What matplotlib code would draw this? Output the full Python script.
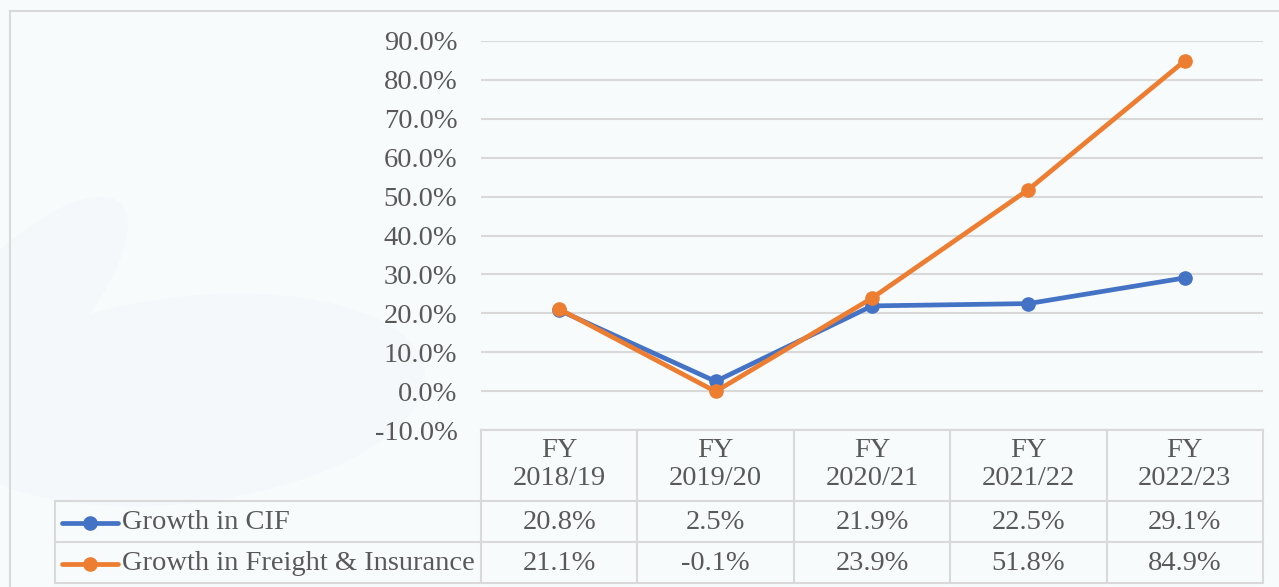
import matplotlib
matplotlib.use("Agg")
import matplotlib.pyplot as plt
from matplotlib.lines import Line2D
from matplotlib.patches import Ellipse

# ── Data ─────────────────────────────────────────────────────────────
YEARS    = ["FY\n2018/19", "FY\n2019/20", "FY\n2020/21", "FY\n2021/22", "FY\n2022/23"]
CIF      = [20.8, 2.5, 21.9, 22.5, 29.1]
FREIGHT  = [21.1, -0.1, 23.9, 51.8, 84.9]
SERIES   = ["Growth in CIF", "Growth in Freight & Insurance"]
YTICKS   = [-10, 0, 10, 20, 30, 40, 50, 60, 70, 80, 90]

BLUE, ORANGE = "#4472C4", "#ED7D31"
GRID  = "#D9D9D9"
TXT   = "#595959"
BG    = "#F8FBFC"
FONT  = "Liberation Serif"
FS    = 20.5

W, H = 1279, 587
fig = plt.figure(figsize=(W / 100, H / 100), dpi=100, facecolor=BG)

# faint watermark shapes in the background
fig.add_artist(Ellipse((185 / W, 1 - 400 / H), 520 / W, 190 / H, angle=40,
                       transform=fig.transFigure, color="#F5F8FA", zorder=0))
fig.add_artist(Ellipse((10 / W, 1 - 320 / H), 140 / W, 260 / H, angle=-20,
                       transform=fig.transFigure, color="#F5F8FA", zorder=0))

# chart frame (left / top edges visible)
fig.add_artist(Line2D([10 / W, 10 / W], [0, 1 - 11 / H], transform=fig.transFigure,
                      color=GRID, lw=1.5))
fig.add_artist(Line2D([10 / W, 1], [1 - 11 / H, 1 - 11 / H], transform=fig.transFigure,
                      color=GRID, lw=1.5))

x0, x1, ytop, ybot = 481, 1263, 41, 430
ax = fig.add_axes([x0 / W, 1 - ybot / H, (x1 - x0) / W, (ybot - ytop) / H])
ax.set_facecolor("none")
ax.set_xlim(-0.5, len(YEARS) - 0.5)
ax.set_ylim(-10, 90)
ax.set_yticks(YTICKS)
ax.set_yticklabels([f"{v:.1f}%" for v in YTICKS], fontfamily=FONT, fontsize=FS, color=TXT)
ax.tick_params(axis="y", length=0, pad=17)
ax.set_xticks([])
for s in ax.spines.values():
    s.set_visible(False)
ax.grid(axis="y", color=GRID, lw=1.5)
ax.set_axisbelow(True)

xs = list(range(len(YEARS)))
ax.plot(xs, CIF, color=BLUE, lw=3.4, marker="o", ms=9.5, zorder=3, clip_on=False)
ax.plot(xs, FREIGHT, color=ORANGE, lw=3.4, marker="o", ms=9.5, zorder=4, clip_on=False)

# ── Data table under the axis ────────────────────────────────────────
trans = ax.get_xaxis_transform()
ph = ybot - ytop
def ay(py):
    return -(py - ybot) / ph

row_edges = [430, 501, 542, 583]
left = (55 - x0) / ((x1 - x0) / len(YEARS)) - 0.5
n = len(YEARS)

def hline(xa, xb, py):
    ax.add_line(Line2D([xa, xb], [ay(py), ay(py)], transform=trans, color=GRID,
                       lw=1.5, clip_on=False))

def vline(x, pa, pb):
    ax.add_line(Line2D([x, x], [ay(pa), ay(pb)], transform=trans, color=GRID,
                       lw=1.5, clip_on=False))

hline(-0.5, n - 0.5, row_edges[0])
for py in row_edges[1:]:
    hline(left, n - 0.5, py)
for i in range(n + 1):
    vline(i - 0.5, row_edges[0], row_edges[-1])
vline(left, row_edges[1], row_edges[-1])

for i, lab in enumerate(YEARS):
    ax.text(i, ay((row_edges[0] + row_edges[1]) / 2 - 1), lab, transform=trans,
            ha="center", va="center", fontfamily=FONT, fontsize=FS, color=TXT,
            linespacing=1.2, clip_on=False)

for r, (vals, name, col) in enumerate(zip([CIF, FREIGHT], SERIES, [BLUE, ORANGE])):
    pyc = (row_edges[r + 1] + row_edges[r + 2]) / 2 + 1
    yc = ay(pyc)
    for i, v in enumerate(vals):
        ax.text(i, yc, f"{v:.1f}%", transform=trans, ha="center", va="center",
                fontfamily=FONT, fontsize=FS, color=TXT, clip_on=False)
    # legend key
    fig.add_artist(Line2D([62 / W, 118 / W], [1 - pyc / H] * 2,
                          transform=fig.transFigure, color=col, lw=3.4, solid_capstyle="round"))
    fig.add_artist(Line2D([90 / W], [1 - pyc / H],
                          transform=fig.transFigure, color=col, marker="o", ms=9.5))
    fig.text(122 / W, 1 - pyc / H, name,
             ha="left", va="center", fontfamily=FONT, fontsize=FS, color=TXT)

fig.savefig("out.png", dpi=100, facecolor=BG)
